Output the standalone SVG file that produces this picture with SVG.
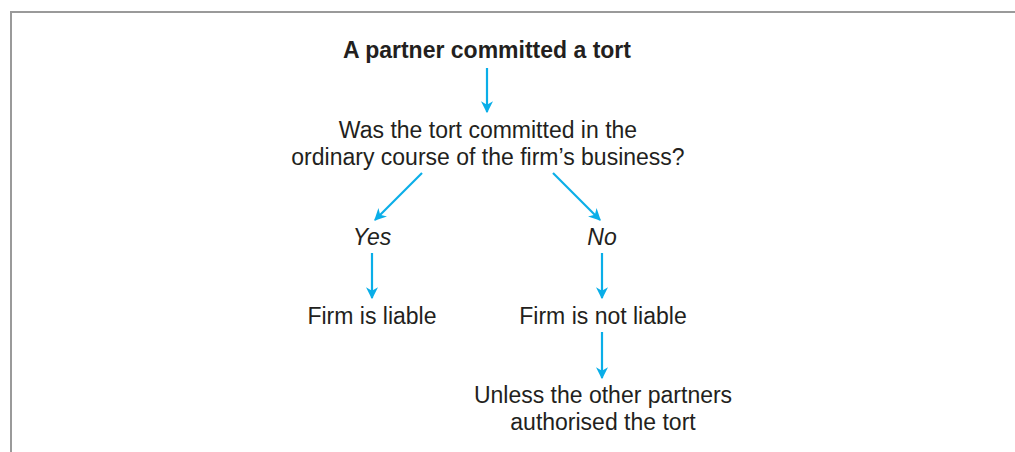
<svg xmlns="http://www.w3.org/2000/svg" width="1015" height="452" viewBox="0 0 1015 452">
<style>
text{font-family:"Liberation Sans",Arial,sans-serif;font-size:23px;fill:#231f20;text-anchor:middle}
.b{font-weight:bold}
.i{font-style:italic}
.c line{stroke:#0aaee8;stroke-width:2.2;marker-end:url(#ah)}
</style>
<defs>
<marker id="ah" viewBox="0 0 10 10" refX="9" refY="5" markerWidth="5.5" markerHeight="5.5" orient="auto" markerUnits="strokeWidth">
<path d="M0,0 L10,5 L0,10 L3,5 Z" fill="#0aaee8"/>
</marker>
</defs>
<rect width="1015" height="452" fill="#fff"/>
<path d="M11,452 V12 H1015" fill="none" stroke="#9a9a9a" stroke-width="2"/>
<g class="c">
<line x1="487" y1="68" x2="487" y2="112"/>
<line x1="422" y1="173" x2="375" y2="220"/>
<line x1="553" y1="173" x2="600" y2="220"/>
<line x1="372" y1="253" x2="372" y2="298"/>
<line x1="602" y1="253" x2="602" y2="298"/>
<line x1="602" y1="332" x2="602" y2="378"/>
</g>
<g id="n1"><text class="b" x="487" y="58">A partner committed a tort</text></g>
<g id="n2"><text x="488" y="138">Was the tort committed in the</text><text x="488" y="165">ordinary course of the firm’s business?</text></g>
<g id="n3"><text class="i" x="372" y="245">Yes</text></g>
<g id="n4"><text class="i" x="602" y="245">No</text></g>
<g id="n5"><text x="372" y="324">Firm is liable</text></g>
<g id="n6"><text x="603" y="324">Firm is not liable</text></g>
<g id="n7"><text x="603" y="403">Unless the other partners</text><text x="603" y="430">authorised the tort</text></g>
</svg>
